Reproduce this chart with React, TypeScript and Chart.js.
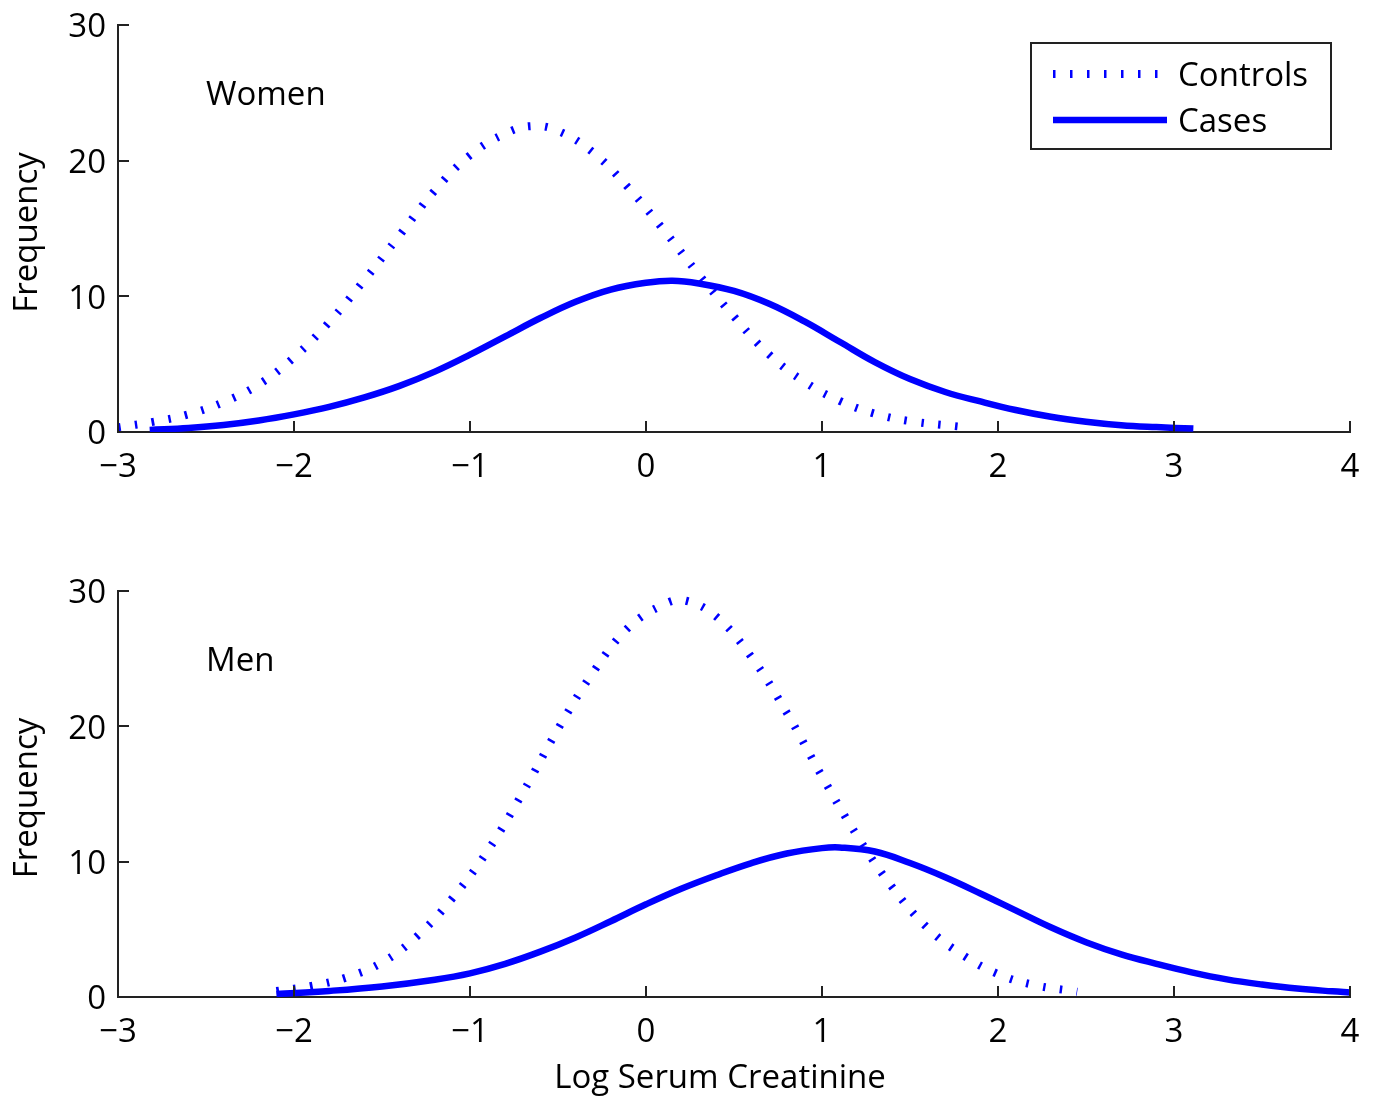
import { useEffect, useRef } from "react";
import { Chart, registerables } from "chart.js";

Chart.register(...registerables);

// Axis ticks
const xTicks = [-3, -2, -1, 0, 1, 2, 3, 4];
const yTicks = [0, 10, 20, 30];

// Women: controls (dotted) and cases (solid)
const womenControlsX = [-3.0, -2.8, -2.6, -2.4, -2.2, -2.0, -1.8, -1.6, -1.4, -1.2, -1.0, -0.8, -0.65, -0.5, -0.3, -0.1, 0.1, 0.3, 0.5, 0.7, 0.9, 1.1, 1.3, 1.5, 1.78];
const womenControlsY = [0.35, 0.75, 1.3, 2.2, 3.5, 5.5, 8.1, 11.2, 14.5, 17.8, 20.4, 22.0, 22.55, 22.2, 20.6, 18.0, 14.9, 11.6, 8.5, 5.7, 3.7, 2.3, 1.35, 0.8, 0.4];
const womenCasesX = [-2.82, -2.6, -2.4, -2.2, -2.0, -1.8, -1.6, -1.4, -1.2, -1.0, -0.8, -0.6, -0.4, -0.2, 0.0, 0.15, 0.3, 0.5, 0.7, 0.9, 1.1, 1.3, 1.5, 1.7, 1.9, 2.1, 2.3, 2.5, 2.7, 2.9, 3.11];
const womenCasesY = [0.15, 0.3, 0.52, 0.85, 1.3, 1.85, 2.55, 3.4, 4.45, 5.7, 7.05, 8.4, 9.6, 10.5, 11.0, 11.15, 10.95, 10.4, 9.45, 8.15, 6.65, 5.15, 3.9, 2.95, 2.25, 1.62, 1.12, 0.76, 0.5, 0.36, 0.25];

// Men: controls (dotted) and cases (solid)
const menControlsX = [-2.1, -1.9, -1.7, -1.5, -1.3, -1.1, -0.9, -0.7, -0.5, -0.3, -0.1, 0.1, 0.22, 0.4, 0.6, 0.8, 1.0, 1.2, 1.4, 1.6, 1.8, 2.0, 2.2, 2.45];
const menControlsY = [0.44, 0.82, 1.45, 2.55, 4.5, 7.3, 10.8, 15.1, 19.8, 24.0, 27.3, 29.0, 29.3, 28.1, 25.1, 21.0, 16.3, 11.9, 8.1, 5.1, 3.1, 1.7, 0.9, 0.39];
const menCasesX = [-2.1, -1.8, -1.5, -1.2, -1.0, -0.8, -0.6, -0.4, -0.2, 0.0, 0.2, 0.4, 0.6, 0.8, 1.0, 1.1, 1.3, 1.5, 1.7, 1.9, 2.1, 2.3, 2.5, 2.7, 2.9, 3.1, 3.3, 3.5, 3.7, 3.9, 4.0];
const menCasesY = [0.22, 0.45, 0.78, 1.28, 1.75, 2.45, 3.35, 4.4, 5.6, 6.85, 8.0, 9.0, 9.9, 10.6, 11.0, 11.05, 10.75, 9.9, 8.85, 7.65, 6.4, 5.15, 4.05, 3.15, 2.45, 1.82, 1.3, 0.92, 0.62, 0.42, 0.34];

const seriesNames = ["Controls", "Cases"];
const panelLabels = ["Women", "Men"];
const xTitle = "Log Serum Creatinine";
const yTitle = "Frequency";

const FONT_FAMILY = "'Open Sans', 'DejaVu Sans', sans-serif";
const FONT_SIZE = 33;
const FONT = `${FONT_SIZE}px ${FONT_FAMILY}`;
const BLUE = "#0000ff";
const AXIS = "#222222";

const zip = (xs: number[], ys: number[]) => xs.map((x, i) => ({ x, y: ys[i] }));

const fmt = (v: number) => (v < 0 ? "\u2212" + Math.abs(v) : String(v));

// Inward tick marks, axis titles, panel label and the boxed legend
const framePlugin = {
  id: "frame",
  afterDatasetsDraw(chart: any, _args: any, opts: any) {
    const { ctx, chartArea, scales } = chart;
    const xs = scales.x;
    const ys = scales.y;
    ctx.save();
    ctx.strokeStyle = AXIS;
    ctx.lineWidth = 2;
    ctx.lineCap = "butt";
    for (const v of xTicks) {
      const px = Math.round(xs.getPixelForValue(v));
      ctx.beginPath();
      ctx.moveTo(px, chartArea.bottom);
      ctx.lineTo(px, chartArea.bottom - 11);
      ctx.stroke();
    }
    for (const v of yTicks) {
      const py = Math.round(ys.getPixelForValue(v));
      ctx.beginPath();
      ctx.moveTo(chartArea.left, py);
      ctx.lineTo(chartArea.left + 11, py);
      ctx.stroke();
    }

    ctx.fillStyle = "#000";
    ctx.font = FONT;
    ctx.textBaseline = "middle";

    // y-axis title
    ctx.save();
    ctx.translate(28, (chartArea.top + chartArea.bottom) / 2 + 4);
    ctx.rotate(-Math.PI / 2);
    ctx.textAlign = "center";
    ctx.fillText(yTitle, 0, 0);
    ctx.restore();

    // x-axis title
    if (opts.xTitle) {
      ctx.textAlign = "center";
      ctx.fillText(xTitle, (chartArea.left + chartArea.right) / 2 - 14, chartArea.bottom + 82);
    }

    ctx.textAlign = "left";
    ctx.fillText(opts.label, xs.getPixelForValue(-2.5), ys.getPixelForValue(25) + 3);

    if (opts.legend) {
      const bw = 300;
      const bh = 106;
      const bx = chartArea.right - 19 - bw;
      const by = chartArea.top + 18;
      ctx.fillStyle = "#fff";
      ctx.fillRect(bx, by, bw, bh);
      ctx.strokeStyle = AXIS;
      ctx.lineWidth = 2;
      ctx.strokeRect(bx, by, bw, bh);
      const rows = [by + 31, by + 77];
      chart.data.datasets.forEach((ds: any, i: number) => {
        ctx.save();
        ctx.strokeStyle = ds.borderColor;
        ctx.lineWidth = ds.borderWidth;
        ctx.lineCap = "butt";
        ctx.setLineDash(ds.borderDash || []);
        ctx.beginPath();
        ctx.moveTo(bx + 22, rows[i]);
        ctx.lineTo(bx + 136, rows[i]);
        ctx.stroke();
        ctx.restore();
        ctx.fillStyle = "#000";
        ctx.fillText(ds.label, bx + 147, rows[i] + 3);
      });
    }
    ctx.restore();
  },
};

function makeConfig(
  controls: { x: number; y: number }[],
  cases: { x: number; y: number }[],
  label: string,
  legend: boolean,
  padTop: number,
  xAxisHeight: number,
  showXTitle: boolean
): any {
  const font = { family: FONT_FAMILY, size: FONT_SIZE };
  return {
    type: "line",
    data: {
      datasets: [
        {
          label: seriesNames[0],
          data: controls,
          borderColor: BLUE,
          borderWidth: 8,
          borderDash: [2.5, 14.5],
          borderCapStyle: "butt",
          pointRadius: 0,
          fill: false,
          tension: 0.4,
        },
        {
          label: seriesNames[1],
          data: cases,
          borderColor: BLUE,
          borderWidth: 6.5,
          borderCapStyle: "butt",
          pointRadius: 0,
          fill: false,
          tension: 0.4,
        },
      ],
    },
    options: {
      animation: false,
      responsive: false,
      events: [],
      layout: { padding: { top: padTop, right: 24, bottom: 0, left: 0 } },
      plugins: {
        legend: { display: false },
        tooltip: { enabled: false },
        frame: { label, legend, xTitle: showXTitle },
      },
      scales: {
        x: {
          type: "linear",
          min: -3,
          max: 4,
          afterBuildTicks: (scale: any) => {
            scale.ticks = xTicks.map((v) => ({ value: v }));
          },
          afterFit: (scale: any) => {
            scale.height = xAxisHeight;
            scale.paddingLeft = 0;
            scale.paddingRight = 0;
          },
          grid: { display: false, drawTicks: false },
          border: { display: true, color: AXIS, width: 2 },
          ticks: {
            color: "#000",
            font,
            padding: 16,
            maxRotation: 0,
            autoSkip: false,
            callback: (v: number) => fmt(v),
          },
          title: { display: false },
        },
        y: {
          type: "linear",
          min: 0,
          max: 30,
          afterBuildTicks: (scale: any) => {
            scale.ticks = yTicks.map((v) => ({ value: v }));
          },
          afterFit: (scale: any) => {
            scale.width = 118;
            scale.paddingTop = 0;
            scale.paddingBottom = 0;
          },
          grid: { display: false, drawTicks: false },
          border: { display: true, color: AXIS, width: 2 },
          ticks: {
            color: "#000",
            font,
            padding: 12,
            labelOffset: 3,
            callback: (v: number) => fmt(v),
          },
          title: { display: false },
        },
      },
    },
    plugins: [framePlugin],
  };
}

export default function App() {
  const topRef = useRef<HTMLCanvasElement | null>(null);
  const bottomRef = useRef<HTMLCanvasElement | null>(null);

  useEffect(() => {
    if (!topRef.current || !bottomRef.current) return;
    const top = new Chart(
      topRef.current,
      makeConfig(zip(womenControlsX, womenControlsY), zip(womenCasesX, womenCasesY), panelLabels[0], true, 25, 118, false)
    );
    const bottom = new Chart(
      bottomRef.current,
      makeConfig(zip(menControlsX, menControlsY), zip(menCasesX, menCasesY), panelLabels[1], false, 41, 103, true)
    );
    return () => {
      top.destroy();
      bottom.destroy();
    };
  }, []);

  return (
    <div
      style={{
        position: "absolute",
        left: 0,
        top: 0,
        width: 1374,
        height: 1100,
        background: "#fff",
      }}
    >
      <canvas ref={topRef} width={1374} height={550} style={{ position: "absolute", left: 0, top: 0 }} />
      <canvas ref={bottomRef} width={1374} height={550} style={{ position: "absolute", left: 0, top: 550 }} />
    </div>
  );
}
